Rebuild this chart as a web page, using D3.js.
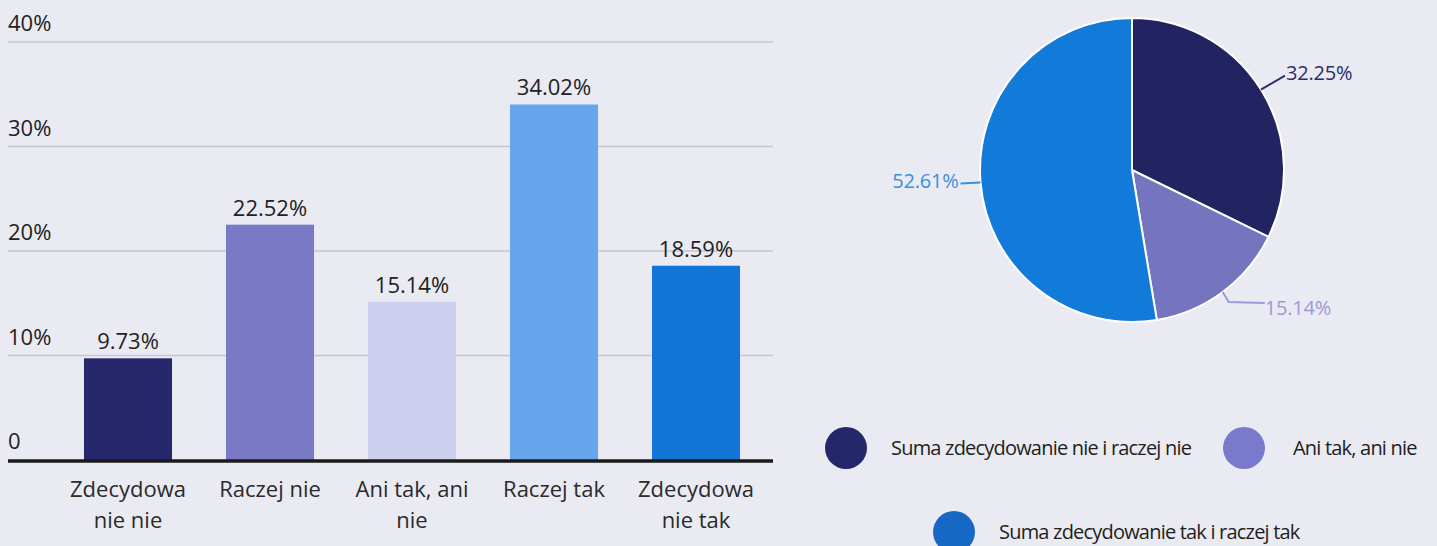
<!DOCTYPE html>
<html>
<head>
<meta charset="utf-8">
<script src="https://cdn.jsdelivr.net/npm/d3@7"></script>
<style>
  html, body { margin: 0; padding: 0; background: #eaeaf2; }
  svg { display: block; font-family: "Open Sans", "Noto Sans", sans-serif; }
</style>
</head>
<body>
<svg id="chart" width="1437" height="546"></svg>
<script>
// ---- data ----
const barCategories = ["Zdecydowanie nie", "Raczej nie", "Ani tak, ani nie", "Raczej tak", "Zdecydowanie tak"];
const barLabelLines = [["Zdecydowa", "nie nie"], ["Raczej nie"], ["Ani tak, ani", "nie"], ["Raczej tak"], ["Zdecydowa", "nie tak"]];
const barValues = [9.73, 22.52, 15.14, 34.02, 18.59];
const barColors = ["#25276a", "#7979c6", "#cdd0ee", "#66a6ec", "#1276d8"];
const yTicks = [0, 10, 20, 30, 40];
const yTickLabels = ["0", "10%", "20%", "30%", "40%"];

const pieCategories = ["Suma zdecydowanie nie i raczej nie", "Ani tak, ani nie", "Suma zdecydowanie tak i raczej tak"];
const pieValues = [32.25, 15.14, 52.61];
const pieColors = ["#222461", "#7575bf", "#127bd9"];
const pieLabelColors = ["#2c2c6c", "#9a9ad8", "#3a8fe0"];
const legendColors = ["#24276a", "#7a7acc", "#1668c4"];

const svg = d3.select("#chart");

// ---- bar chart ----
const x = d3.scaleBand().domain(barCategories).range([57, 767]).paddingInner(0.38).paddingOuter(0.19);
const y = d3.scaleLinear().domain([0, 40]).range([460, 42]);
const gridX0 = 8, gridX1 = 773;

const grid = svg.append("g");
grid.selectAll("line").data(yTicks.filter(t => t > 0)).join("line")
  .attr("x1", gridX0).attr("x2", gridX1)
  .attr("y1", d => y(d)).attr("y2", d => y(d))
  .attr("stroke", "#c6c6d0").attr("stroke-width", 1.6);

svg.append("g").selectAll("text").data(yTicks).join("text")
  .attr("x", gridX0).attr("y", d => y(d) - 11)
  .attr("font-size", 22).attr("fill", "#222")
  .text((d, i) => yTickLabels[i]);

svg.append("g").selectAll("rect").data(barValues).join("rect")
  .attr("x", (d, i) => x(barCategories[i]))
  .attr("width", x.bandwidth())
  .attr("y", d => y(d))
  .attr("height", d => y(0) - y(d))
  .attr("fill", (d, i) => barColors[i]);

svg.append("g").selectAll("text").data(barValues).join("text")
  .attr("x", (d, i) => x(barCategories[i]) + x.bandwidth() / 2)
  .attr("y", d => y(d) - 9)
  .attr("text-anchor", "middle")
  .attr("font-size", 22).attr("fill", "#222")
  .text(d => d.toFixed(2) + "%");

svg.append("line")
  .attr("x1", gridX0).attr("x2", gridX1)
  .attr("y1", y(0) + 1).attr("y2", y(0) + 1)
  .attr("stroke", "#1b1b1b").attr("stroke-width", 3.5);

const catG = svg.append("g").selectAll("text").data(barLabelLines).join("text")
  .attr("text-anchor", "middle")
  .attr("font-size", 22).attr("fill", "#2a2a2a");
catG.each(function (lines, i) {
  const t = d3.select(this);
  lines.forEach((ln, j) => {
    t.append("tspan")
      .attr("x", x(barCategories[i]) + x.bandwidth() / 2)
      .attr("y", 497 + j * 31)
      .text(ln);
  });
});

// ---- pie chart ----
const cx = 1132, cy = 170, r = 152;
const pie = d3.pie().sort(null).value(d => d)(pieValues);
const arc = d3.arc().innerRadius(0).outerRadius(r);
const pg = svg.append("g").attr("transform", `translate(${cx},${cy})`);
pg.selectAll("path").data(pie).join("path")
  .attr("d", arc)
  .attr("fill", (d, i) => pieColors[i])
  .attr("stroke", "#ffffff").attr("stroke-width", 2);

// leader lines and labels
const leaderDefs = [
  { out: [24, -14], end: [0, 0], anchor: "start", dx: 1, dy: 4 },
  { out: [6, 10], end: [36, 1], anchor: "start", dx: 0, dy: 12 },
  { out: [-20, 1], end: [0, 0], anchor: "end", dx: -2, dy: 5 }
];
pie.forEach((p, i) => {
  const a = (p.startAngle + p.endAngle) / 2;
  const sx = Math.sin(a) * r, sy = -Math.cos(a) * r;
  const def = leaderDefs[i];
  const mx = sx + def.out[0], my = sy + def.out[1];
  const ex = mx + def.end[0], ey = my + def.end[1];
  pg.append("path")
    .attr("d", `M${sx},${sy}L${mx},${my}L${ex},${ey}`)
    .attr("fill", "none")
    .attr("stroke", pieLabelColors[i]).attr("stroke-width", 2);
  pg.append("text")
    .attr("x", ex + def.dx).attr("y", ey + def.dy)
    .attr("text-anchor", def.anchor)
    .attr("font-size", 20).attr("letter-spacing", -0.2)
    .attr("fill", pieLabelColors[i])
    .text(p.data.toFixed(2) + "%");
});

// ---- legend ----
const legendPos = [[846, 448], [1244, 448], [954, 532]];
const lg = svg.append("g").selectAll("g").data(pieCategories).join("g")
  .attr("transform", (d, i) => `translate(${legendPos[i][0]},${legendPos[i][1]})`);
lg.append("circle").attr("r", 21).attr("fill", (d, i) => legendColors[i]);
lg.append("text")
  .attr("x", (d, i) => i === 1 ? 49 : 45)
  .attr("y", 7)
  .attr("font-size", 20).attr("letter-spacing", -0.8)
  .attr("fill", "#1e1e1e")
  .text(d => d);
</script>
</body>
</html>
